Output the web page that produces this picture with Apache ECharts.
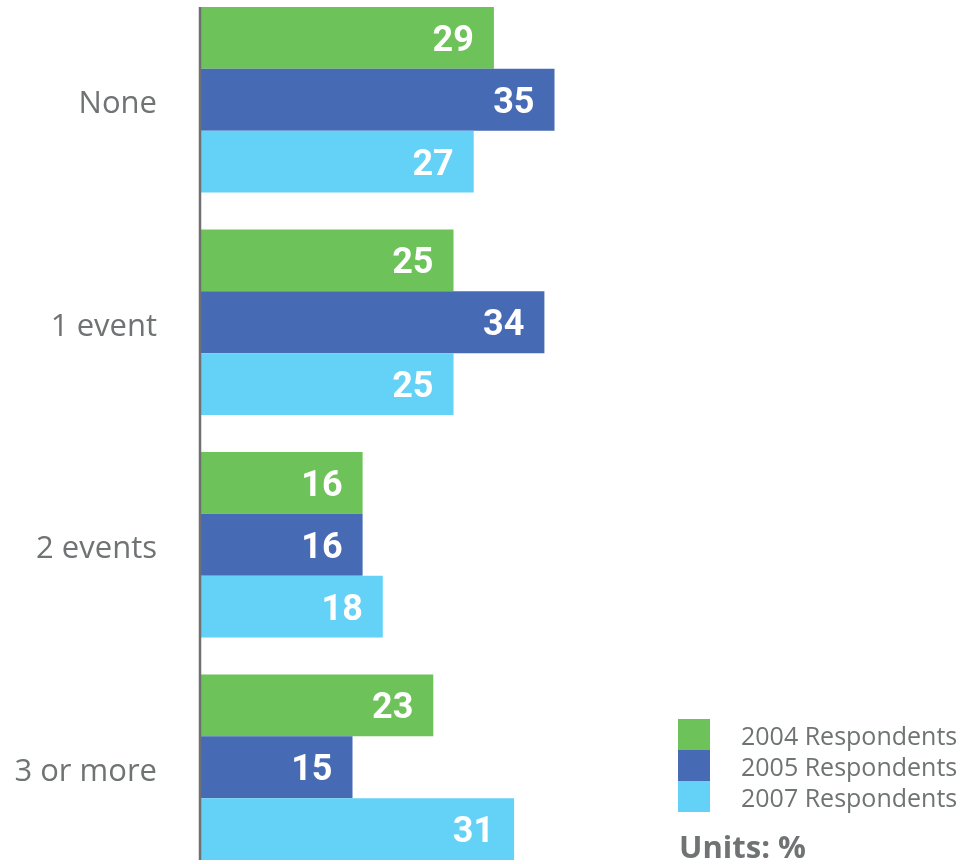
<!DOCTYPE html>
<html>
<head>
<meta charset="utf-8">
<title>Events per respondent</title>
<script src="https://cdn.jsdelivr.net/npm/echarts@6/dist/echarts.min.js"></script>
<style>
  html, body { margin: 0; padding: 0; background: #ffffff; }
  #chart { width: 966px; height: 864px; }
</style>
</head>
<body>
<div id="chart"></div>
<script>
// Number of events reported, share of respondents (%)
const categories = ['None', '1 event', '2 events', '3 or more'];
const seriesNames = ['2004 Respondents', '2005 Respondents', '2007 Respondents'];
const values2004 = [29, 25, 16, 23];
const values2005 = [35, 34, 16, 15];
const values2007 = [27, 25, 18, 31];
const unitsLabel = 'Units: %';

const colors = ['#6dc25a', '#476ab4', '#63d2f6'];
const textGrey = '#6f7373';
const categoryGapRatio = 0.166;

const chart = echarts.init(document.getElementById('chart'), null, { renderer: 'canvas' });

function barSeries(name, data, color) {
  return {
    name: name,
    type: 'bar',
    data: data,
    barGap: 0,
    barCategoryGap: (categoryGapRatio * 100) + '%',
    itemStyle: { color: color },
    label: {
      show: true,
      position: 'insideRight',
      distance: 20,
      offset: [0, 4],
      color: '#ffffff',
      fontFamily: 'Roboto',
      fontWeight: 'bold',
      fontSize: 36
    },
    emphasis: { disabled: true }
  };
}

chart.setOption({
  animation: false,
  color: colors,
  grid: {
    left: 201,
    top: -11.5,
    height: 890,
    width: 505,
    outerBoundsMode: 'none',
    containLabel: false
  },
  xAxis: {
    type: 'value',
    min: 0,
    max: 50,
    show: false
  },
  yAxis: {
    type: 'category',
    data: categories,
    inverse: true,
    axisLine: { show: false },
    axisTick: { show: false },
    axisLabel: {
      margin: 44,
      formatter: '{cat|{value}}',
      rich: {
        cat: {
          padding: [9, 0, 0, 0],
          color: textGrey,
          fontFamily: 'Open Sans',
          fontSize: 31
        }
      }
    }
  },
  legend: {
    orient: 'vertical',
    left: 678,
    top: 719,
    padding: 0,
    itemWidth: 32,
    itemHeight: 31,
    itemGap: 0,
    icon: 'rect',
    selectedMode: false,
    data: seriesNames,
    formatter: '{lg|{name}}',
    textStyle: {
      rich: {
        lg: {
          color: textGrey,
          fontFamily: 'Open Sans',
          fontSize: 25,
          lineHeight: 25,
          padding: [6, 0, 0, 26]
        }
      }
    }
  },
  title: {
    text: unitsLabel,
    left: 679,
    top: 834,
    padding: 0,
    textStyle: {
      color: textGrey,
      fontFamily: 'Open Sans',
      fontWeight: 'bold',
      fontSize: 31
    }
  },
  series: [
    barSeries(seriesNames[0], values2004, colors[0]),
    barSeries(seriesNames[1], values2005, colors[1]),
    barSeries(seriesNames[2], values2007, colors[2])
  ]
});

// Vertical baseline spanning the outer edges of the first and last bar groups
const firstCenter = chart.convertToPixel({ yAxisIndex: 0 }, categories[0]);
const secondCenter = chart.convertToPixel({ yAxisIndex: 0 }, categories[1]);
const lastCenter = chart.convertToPixel({ yAxisIndex: 0 }, categories[categories.length - 1]);
const band = Math.abs(secondCenter - firstCenter);
const halfGroup = band * (1 - categoryGapRatio) / 2;
const baseX = chart.convertToPixel({ xAxisIndex: 0 }, 0);

chart.setOption({
  graphic: [{
    type: 'line',
    z: 100,
    shape: {
      x1: baseX - 1, y1: firstCenter - halfGroup,
      x2: baseX - 1, y2: lastCenter + halfGroup
    },
    style: { stroke: '#6f7171', lineWidth: 2.5 }
  }]
});
</script>
</body>
</html>
